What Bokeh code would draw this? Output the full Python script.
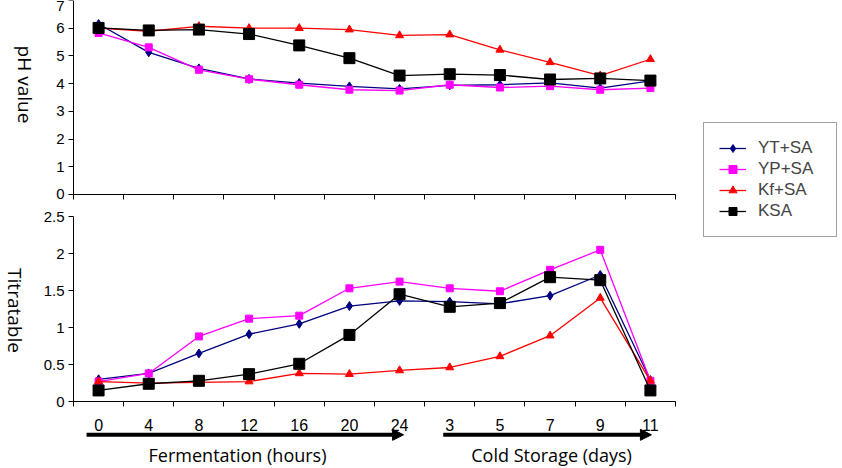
from math import pi

from bokeh.plotting import figure
from bokeh.models import (Range1d, LinearAxis, FixedTicker, Label,
                          Arrow, NormalHead, Legend, LegendItem)
from bokeh.embed import file_html
from bokeh.resources import INLINE

# Sampling points: hours of fermentation, then days of cold storage
times = ["0", "4", "8", "12", "16", "20", "24", "3", "5", "7", "9", "11"]

# pH value
ph_yt = [6.15, 5.13, 4.55, 4.17, 4.02, 3.90, 3.81, 3.94, 3.96, 4.03, 3.84, 4.10]
ph_yp = [5.83, 5.31, 4.50, 4.16, 3.96, 3.78, 3.75, 3.96, 3.86, 3.91, 3.78, 3.84]
ph_kf = [6.00, 5.89, 6.07, 6.00, 6.00, 5.95, 5.74, 5.77, 5.22, 4.77, 4.29, 4.88]
ph_ksa = [6.01, 5.92, 5.95, 5.79, 5.38, 4.92, 4.29, 4.34, 4.31, 4.15, 4.19, 4.11]

# Titratable acidity
ta_yt = [0.30, 0.38, 0.65, 0.91, 1.05, 1.29, 1.36, 1.35, 1.32, 1.43, 1.71, 0.29]
ta_yp = [0.27, 0.38, 0.88, 1.12, 1.16, 1.53, 1.62, 1.53, 1.49, 1.78, 2.05, 0.28]
ta_kf = [0.27, 0.25, 0.26, 0.27, 0.38, 0.37, 0.42, 0.46, 0.61, 0.89, 1.40, 0.28]
ta_ksa = [0.15, 0.24, 0.28, 0.37, 0.51, 0.90, 1.45, 1.28, 1.33, 1.68, 1.64, 0.15]

series_names = ["YT+SA", "YP+SA", "Kf+SA", "KSA"]
ph_ticks = [0, 1, 2, 3, 4, 5, 6, 7]
ta_ticks = [0, 0.5, 1, 1.5, 2, 2.5]
ta_tick_labels = ["0", "0.5", "1", "1.5", "2", "2.5"]

styles = [
    dict(color="#000080", marker="diamond", size=9),
    dict(color="#FF00FF", marker="square", size=7),
    dict(color="#FF0000", marker="triangle", size=8),
    dict(color="#000000", marker="square", size=11),
]

TICK_FONT = "Liberation Sans"
TITLE_FONT = "Open Sans"

n = len(times)
# each sampling point sits in the middle of its own slot on the x axis
slot_centres = [i + 0.5 for i in range(n)]
slot_edges = list(range(n + 1))

# The plotting area spans the whole canvas; both panels share it, each with
# its own vertical range, and the axes are pinned at fixed locations.
p = figure(width=842, height=468, output_backend="svg", toolbar_location=None,
           x_range=Range1d(-1.455, 15.329), y_range=Range1d(-9.887, 7),
           x_axis_location=None, y_axis_location=None,
           min_border=0)
p.title.visible = False
p.outline_line_color = None
p.background_fill_color = "white"
p.border_fill_color = "white"
p.grid.visible = False
p.extra_y_ranges = {"ta": Range1d(-0.905, 5.419)}


def style_axis(ax):
    ax.axis_line_color = "black"
    ax.axis_line_width = 1
    ax.major_tick_line_color = "black"
    ax.minor_tick_line_color = "black"
    ax.major_tick_in = 0
    ax.minor_tick_in = 0
    ax.minor_tick_out = 0
    ax.major_label_text_font = TICK_FONT
    ax.major_label_text_color = "black"


# pH axis (upper panel)
ph_axis = LinearAxis(fixed_location=0, bounds=(0, 7), ticker=FixedTicker(ticks=ph_ticks))
style_axis(ph_axis)
ph_axis.major_tick_out = 5
ph_axis.major_label_standoff = 4
ph_axis.major_label_text_font_size = "15px"
p.add_layout(ph_axis, "left")

# titratable acidity axis (lower panel), on the same vertical line
ta_axis = LinearAxis(y_range_name="ta", fixed_location=0,
                     bounds=(0, 2.5), ticker=FixedTicker(ticks=ta_ticks),
                     major_label_overrides=dict(zip(ta_ticks, ta_tick_labels)))
style_axis(ta_axis)
ta_axis.major_tick_out = 5
ta_axis.major_label_standoff = 4
ta_axis.major_label_text_font_size = "15px"
p.add_layout(ta_axis, "left")

# lower category axis: labels at slot centres, tick marks between slots
bottom_axis = LinearAxis(y_range_name="ta", fixed_location=0, bounds=(0, n),
                         ticker=FixedTicker(ticks=slot_centres, minor_ticks=slot_edges),
                         major_label_overrides=dict(zip(slot_centres, times)))
style_axis(bottom_axis)
bottom_axis.major_tick_out = 0
bottom_axis.minor_tick_out = 5
bottom_axis.major_label_standoff = 12
bottom_axis.major_label_text_font_size = "16px"
p.add_layout(bottom_axis, "below")

# upper panel baseline with slot separators
top_axis = LinearAxis(fixed_location=0, bounds=(0, n), ticker=FixedTicker(ticks=slot_edges))
style_axis(top_axis)
top_axis.major_tick_out = 5
top_axis.major_label_text_alpha = 0
top_axis.major_label_text_font_size = "1px"
p.add_layout(top_axis, "below")

legend_items = []
for name, ph, ta, st in zip(series_names, [ph_yt, ph_yp, ph_kf, ph_ksa],
                            [ta_yt, ta_yp, ta_kf, ta_ksa], styles):
    l1 = p.line(slot_centres, ph, line_color=st["color"], line_width=1.3)
    m1 = p.scatter(slot_centres, ph, marker=st["marker"], size=st["size"],
                   fill_color=st["color"], line_color=st["color"])
    p.line(slot_centres, ta, line_color=st["color"], line_width=1.3, y_range_name="ta")
    p.scatter(slot_centres, ta, marker=st["marker"], size=st["size"],
              fill_color=st["color"], line_color=st["color"], y_range_name="ta")
    legend_items.append(LegendItem(label=name, renderers=[l1, m1]))

legend = Legend(items=legend_items, location=(703, 231), padding=15, spacing=1,
                label_height=20, glyph_height=20, glyph_width=27,
                label_standoff=12, label_width=63, margin=0,
                label_text_font=TICK_FONT, label_text_font_size="17px",
                border_line_color="#444444", border_line_width=1,
                background_fill_color="white", background_fill_alpha=1)
p.add_layout(legend)

# rotated axis titles
p.add_layout(Label(x=-0.957, y=3.97, text="pH value",
                   angle=-pi / 2, text_align="center", text_baseline="middle",
                   text_font=TITLE_FONT, text_font_size="19px", text_color="black"))
p.add_layout(Label(x=-1.156, y=1.23, y_range_name="ta",
                   text="Titratable", angle=-pi / 2, text_align="center",
                   text_baseline="middle", text_font=TITLE_FONT,
                   text_font_size="19px", text_color="black"))

# period arrows and their captions
for x0, x1 in [(0.26, 6.58), (7.37, 11.52)]:
    p.add_layout(Arrow(end=NormalHead(size=11, fill_color="black", line_color="black"),
                       x_start=x0, y_start=-0.45, x_end=x1, y_end=-0.45,
                       y_range_name="ta", line_color="black", line_width=4))

p.add_layout(Label(x=3.27, y=-0.565, y_range_name="ta",
                   text="Fermentation (hours)", text_align="center", text_baseline="top",
                   text_font=TITLE_FONT, text_font_size="18px", text_color="black"))
p.add_layout(Label(x=9.53, y=-0.565, y_range_name="ta",
                   text="Cold Storage (days)", text_align="center", text_baseline="top",
                   text_font=TITLE_FONT, text_font_size="18px", text_color="black"))

open("out.html", "w").write(file_html(p, INLINE))
